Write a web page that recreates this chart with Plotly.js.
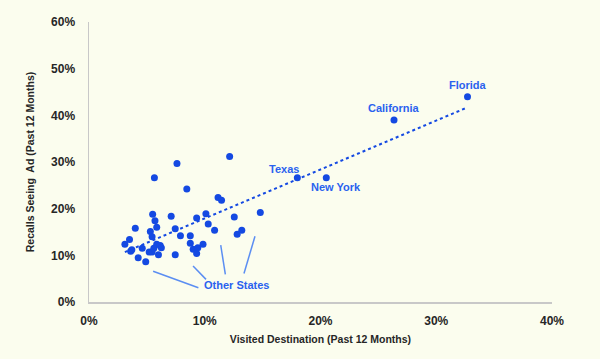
<!DOCTYPE html>
<html><head><meta charset="utf-8">
<script src="https://cdn.plot.ly/plotly-3.0.1.min.js"></script>
<style>html,body{margin:0;padding:0;background:#fbfdee;}</style>
</head><body><div id="chart" style="width:600px;height:359px;"></div>
<script>
// Other states (visited %, recall %)
const otherX = [3.1,3.5,3.6,3.7,4.0,4.25,4.6,4.9,5.2,5.3,5.45,5.5,5.65,5.7,5.85,5.45,5.6,5.85,6.0,6.15,6.25,7.1,7.45,7.45,7.6,7.9,8.45,8.75,8.75,9.0,9.3,9.3,9.4,9.85,10.1,10.3,10.85,11.15,11.45,12.15,12.55,12.8,13.2,14.8];
const otherY = [12.4,13.4,10.9,11.2,15.8,9.5,11.5,8.6,10.7,15.1,14.0,18.8,26.6,17.4,16.0,10.7,11.5,12.4,10.1,12.1,11.6,18.4,15.7,10.1,29.7,14.2,24.2,14.2,12.6,11.3,18.0,10.4,11.6,12.4,18.9,16.7,15.4,22.4,21.8,31.2,18.2,14.5,15.4,19.2];
const namedStates = ["Florida","California","Texas","New York"];
const namedX = [32.7,26.35,18.0,20.5];
const namedY = [44.0,39.0,26.6,26.6];
const trendX = [3.1,32.7];
const trendY = [10.7,41.7];
const xTicks = [0,10,20,30,40];
const xTickText = ["0%","10%","20%","30%","40%"];
const yTicks = [0,10,20,30,40,50,60];
const yTickText = ["0%","10%","20%","30%","40%","50%","60%"];
// leader lines for "Other States" label: [x0,y0,x1,y1]
const leaderX0 = [5.54,8.99,11.38,14.34];
const leaderY0 = [6.6,7.7,12.2,14.1];
const leaderX1 = [9.45,10.11,11.78,13.39];
const leaderY1 = [3.06,4.85,5.9,6.1];

const blue = '#1449e2';
const labelBlue = '#2a62ee';
const font = 'Liberation Sans, Arial, sans-serif';
const textCol = '#262626';

const traces = [
  {x: trendX, y: trendY, mode:'lines', line:{color:blue, width:2, dash:'dot'}, hoverinfo:'skip'},
  {x: otherX, y: otherY, mode:'markers', marker:{color:blue, size:7}},
  {x: namedX, y: namedY, mode:'markers', marker:{color:blue, size:7}}
];

const labelShift = [[0,-12],[0,-12],[-13,-9],[10,9]];
const annotations = namedStates.map((s,i)=>({
  x:namedX[i], y:namedY[i], text:s, showarrow:false,
  xshift:labelShift[i][0], yshift:-labelShift[i][1],
  font:{family:font, size:11, color:labelBlue, weight:'bold'}
}));
annotations.push({x:12.75, y:3.6, text:'Other States', showarrow:false,
  font:{family:font, size:11, color:labelBlue, weight:'bold'}});

const shapes = leaderX0.map((v,i)=>({type:'line', xref:'x', yref:'y',
  x0:v, y0:leaderY0[i], x1:leaderX1[i], y1:leaderY1[i],
  line:{color:'#5b8ef2', width:1.5}}));

const tickFont = {family:font, size:12, color:textCol, weight:'bold'};
const titleFont = {family:font, size:10.5, color:textCol, weight:'bold'};

const layout = {
  width:600, height:359,
  margin:{l:89, r:48, t:22, b:57},
  paper_bgcolor:'#fbfdee', plot_bgcolor:'#fbfdee',
  showlegend:false,
  font:{family:font, size:11, color:textCol},
  xaxis:{range:[0,40], tickvals:xTicks, ticktext:xTickText, showgrid:false, zeroline:false,
    showline:true, linecolor:'#c8c8c8', linewidth:1.5, ticks:'', ticklabelstandoff:7,
    tickfont:tickFont,
    title:{text:'Visited Destination (Past 12 Months)', font:titleFont, standoff:8}},
  yaxis:{range:[0,60], tickvals:yTicks, ticktext:yTickText, showgrid:false, zeroline:false,
    showline:true, linecolor:'#c8c8c8', linewidth:1.5, ticks:'', ticklabelstandoff:10,
    tickfont:tickFont,
    title:{text:'Recalls Seeing  Ad (Past 12 Months)', font:titleFont, standoff:14}},
  annotations: annotations,
  shapes: shapes
};
Plotly.newPlot('chart', traces, layout, {displayModeBar:false, staticPlot:true});
</script></body></html>
